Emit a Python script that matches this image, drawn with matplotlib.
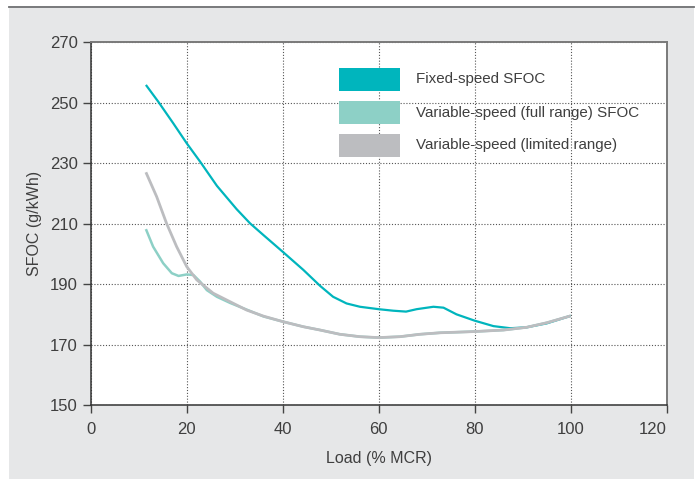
import matplotlib
matplotlib.use("Agg")
import matplotlib.pyplot as plt
from matplotlib.patches import Rectangle
from matplotlib.lines import Line2D

plt.rcParams['font.family'] = ['Liberation Sans', 'DejaVu Sans']

# ---- data ----
fixed_x = [11.5, 14.1, 17.2, 20, 22.8, 26.3, 30.4, 33.2, 36, 40, 44.3, 47.8, 50.5,
           53.3, 56.1, 60, 63, 65.7, 67.9, 71.4, 73.5, 76.2, 80, 83.9, 87.4, 90.8, 95, 100]
fixed_y = [255.9, 250.3, 243.2, 236.6, 230.5, 222.5, 214.8, 210.1, 206.2, 200.7, 194.7,
           189.4, 185.8, 183.6, 182.5, 181.7, 181.2, 180.9, 181.7, 182.5, 182.2, 180.0,
           177.9, 176.1, 175.4, 175.7, 177.0, 179.5]

full_x = [11.5, 13.0, 15.1, 16.9, 18.3, 20, 21.4, 22.8, 24.2, 26.3, 29, 31.8, 36, 40,
          44.3, 47.8, 51.9, 56.1, 60, 64.4, 68.6, 72.8, 80, 86, 90.8, 95, 100]
full_y = [208.2, 202.4, 196.9, 193.6, 192.7, 193.2, 193.0, 190.8, 188.0, 185.8, 183.8,
          182.0, 179.3, 177.6, 175.9, 174.8, 173.4, 172.6, 172.3, 172.6, 173.4, 173.9,
          174.3, 174.8, 175.7, 177.2, 179.5]

lim_x = [11.5, 13.75, 15.8, 17.9, 20, 22.1, 25.5, 29, 32.5, 36, 40, 44.3, 47.8, 51.9,
         56.1, 60, 64.4, 68.6, 72.8, 80, 86, 90.8, 95, 100]
lim_y = [227.0, 218.9, 210.1, 202.4, 195.8, 191.4, 187.0, 184.2, 181.4, 179.4, 177.6,
         175.9, 174.8, 173.4, 172.6, 172.3, 172.6, 173.4, 173.9, 174.3, 174.8, 175.7,
         177.2, 179.5]

labels = ["Fixed-speed SFOC", "Variable-speed (full range) SFOC", "Variable-speed (limited range)"]
colors = ["#00b5bd", "#8dd0c6", "#bcbdc0"]
x_ticks = [0, 20, 40, 60, 80, 100, 120]
y_ticks = [150, 170, 190, 210, 230, 250, 270]

W, H = 697, 479
fig = plt.figure(figsize=(W / 100, H / 100), dpi=100, facecolor="white")

# gray panel background + top rule
fig.patches.append(Rectangle((9 / W, 0), (694 - 9) / W, (H - 7.5) / H,
                             transform=fig.transFigure, facecolor="#e6e7e8",
                             edgecolor="none", zorder=-10))
fig.lines.append(Line2D([9 / W, 694 / W], [(H - 7.3) / H] * 2, transform=fig.transFigure,
                        color="#6d6e71", linewidth=1.3, zorder=-9))

ax = fig.add_axes([90.7 / W, (H - 405) / H, (666.7 - 90.7) / W, (405 - 42.3) / H])
ax.set_zorder(1)
ax.set_facecolor("white")

text_color = "#3f3f3f"
ax.plot(fixed_x, fixed_y, color=colors[0], lw=1.6, zorder=3, solid_joinstyle="round",
        solid_capstyle="butt")
ax.plot(full_x, full_y, color=colors[1], lw=1.8, zorder=4, solid_joinstyle="round",
        solid_capstyle="butt")
ax.plot(lim_x, lim_y, color=colors[2], lw=2.0, zorder=5, solid_joinstyle="round",
        solid_capstyle="butt")

ax.set_xlim(0, 120)
ax.set_ylim(150, 270)
ax.set_xticks(x_ticks)
ax.set_yticks(y_ticks)
ax.tick_params(axis="both", direction="out", length=6, width=1.0, color="#444444",
               labelsize=12, labelcolor=text_color)
ax.tick_params(axis="x", pad=6)
ax.tick_params(axis="y", pad=3.5)
xlabs = ax.get_xticklabels()
xlabs[-1].set_horizontalalignment("right")

ax.grid(True, linestyle=(0, (1, 1.6)), color="#555555", linewidth=0.8)
ax.set_axisbelow(True)

for s in ["left", "bottom"]:
    ax.spines[s].set_color("#333333")
    ax.spines[s].set_linewidth(1.1)
for s in ["top", "right"]:
    ax.spines[s].set_color("#7a7a7a")
    ax.spines[s].set_linewidth(1.4)

ax.set_xlabel("Load (% MCR)", fontsize=11.5, color=text_color, labelpad=10)
ax.set_ylabel("SFOC (g/kWh)", fontsize=11.5, color=text_color, labelpad=5.5)

# legend (manual, in pixel-mapped axes coordinates)
def ax_xy(px, py):
    return ((px - 90.7) / (666.7 - 90.7), (405 - py) / (405 - 42.3))

for i, (lab, col) in enumerate(zip(labels, colors)):
    top = 68.3 + i * 33
    x0, y0 = ax_xy(339, top + 22.4)
    x1, y1 = ax_xy(400, top)
    ax.add_patch(Rectangle((x0, y0), x1 - x0, y1 - y0, transform=ax.transAxes,
                           facecolor=col, edgecolor="none", zorder=6))
    tx, ty = ax_xy(416.5, top + 11.2)
    ax.text(tx, ty, lab, transform=ax.transAxes, fontsize=10.9, color=text_color,
            va="center", ha="left", zorder=6)

fig.savefig("out.png", dpi=100, facecolor=fig.get_facecolor())
